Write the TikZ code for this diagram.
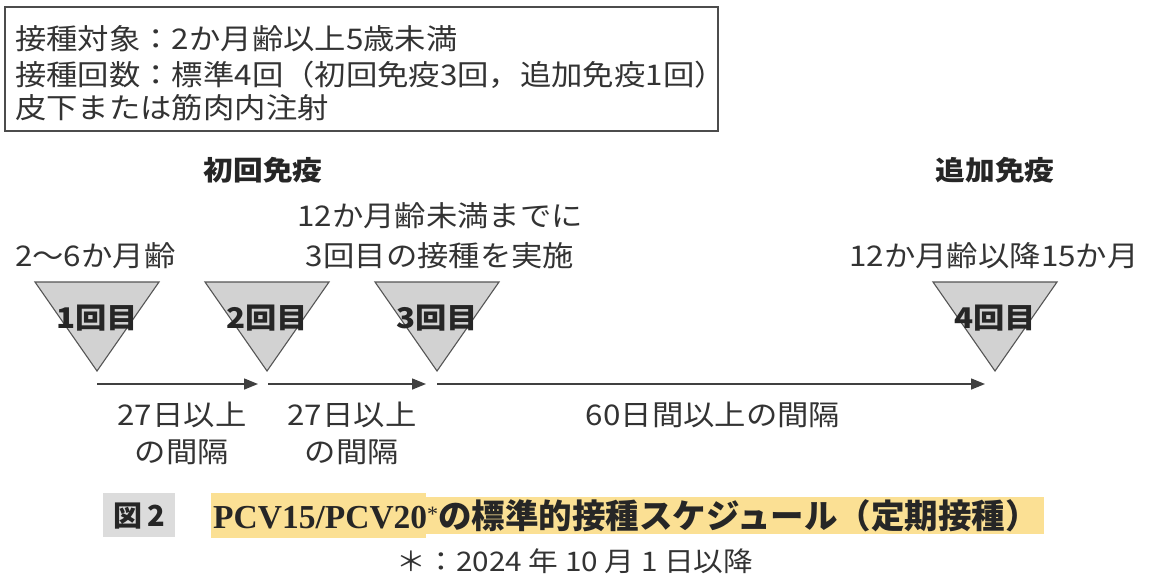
\documentclass[tikz,border=0pt]{standalone}
\usepackage{fontspec}
\usetikzlibrary{arrows.meta}
\newfontfamily\jp[FakeStretch=1.1]{Noto Sans CJK JP}
\newfontfamily\jpn{Noto Sans CJK JP}
\newfontfamily\serifb{Liberation Serif}
\definecolor{txt}{HTML}{333333}
\definecolor{trifill}{HTML}{D2D2D2}
\definecolor{triedge}{HTML}{555555}
\definecolor{hl}{HTML}{FBE094}
\definecolor{figgrey}{HTML}{DCDCDC}
\tikzset{
  lbl/.style={inner sep=0pt, text=txt, font=\jp\fontsize{28.5}{37}\selectfont, align=center},
  hdr/.style={inner sep=0pt, text=black!85, font=\jp\bfseries\fontsize{27}{34}\selectfont},
  trilbl/.style={inner sep=0pt, text=black!85, font=\jp\bfseries\fontsize{28.5}{34}\selectfont},
  tri/.style={fill=trifill, draw=triedge, line width=1.1pt, line join=miter},
  tl/.style={draw=black!75, line width=1.5pt, -{Triangle[length=14pt,width=11pt]}},
}
\begin{document}
\begin{tikzpicture}[x=1pt,y=-1pt]
\fill[white] (0,0) rectangle (1150,582);
\useasboundingbox (0,0) rectangle (1150,582);

% info box
\draw[draw=black!70, line width=1.1pt] (5,7) rectangle (718,131);
\node[lbl, anchor=west] (i1) at (15,39) {接種対象：2か月齢以上5歳未満};
\node[lbl, anchor=west] (i2) at (15,75) {接種回数：標準4回（初回免疫3回，追加免疫1回）};
\node[lbl, anchor=west] (i3) at (15,108) {皮下または筋肉内注射};

% headers
\node[hdr] (h1) at (263,170) {初回免疫};
\node[hdr] (h2) at (995,170) {追加免疫};

% age labels
\node[lbl, anchor=west] (g1) at (15,256) {2～6か月齢};
\node[lbl] (g3a) at (440,216) {12か月齢未満までに};
\node[lbl] (g3b) at (440,256) {3回目の接種を実施};
\node[lbl] (g4) at (994,256) {12か月齢以降15か月};

% triangles
\foreach \i/\cx in {1/97,2/267,3/437,4/995}{
  \draw[tri] (\cx-62,282) -- (\cx+62,282) -- (\cx,371) -- cycle;
  \coordinate (a\i) at (\cx,384);
}
\node[trilbl] (t1) at (97,318) {1回目};
\node[trilbl] (t2) at (267,318) {2回目};
\node[trilbl] (t3) at (437,318) {3回目};
\node[trilbl] (t4) at (995,318) {4回目};

% arrows
\draw[tl] (a1) -- ([xshift=-9pt]a2);
\draw[tl] ([xshift=1pt]a2) -- ([xshift=-11pt]a3);
\draw[tl] (a3) -- ([xshift=-10pt]a4);

% interval labels
\node[lbl] (d1) at (182,433) {27日以上\\の間隔};
\node[lbl] (d2) at (352,433) {27日以上\\の間隔};
\node[lbl] (d3) at (713,415) {60日間以上の間隔};

% caption
\fill[figgrey] (103,493) rectangle (175,537);
\node[inner sep=0pt, text=black!85, font=\jpn\bfseries\fontsize{29}{34}\selectfont] (fig) at (139,516) {図\,2};
\fill[hl] (211,493) rectangle (426,538);
\fill[hl] (426,497) rectangle (1044,534);
\node[inner sep=0pt, anchor=west, text=black!85] (title) at (213,516)
  {{\serifb\bfseries\fontsize{33.5}{36}\selectfont PCV15/PCV20}\raisebox{7pt}{\serifb\fontsize{22}{24}\selectfont *}{\jpn\bfseries\fontsize{33.5}{36}\selectfont の標準的接種スケジュール（定期接種）}};
\node[lbl, font=\jp\fontsize{27}{30}\selectfont] (foot) at (575,561) {＊：2024 年 10 月 1 日以降};
\end{tikzpicture}
\end{document}
